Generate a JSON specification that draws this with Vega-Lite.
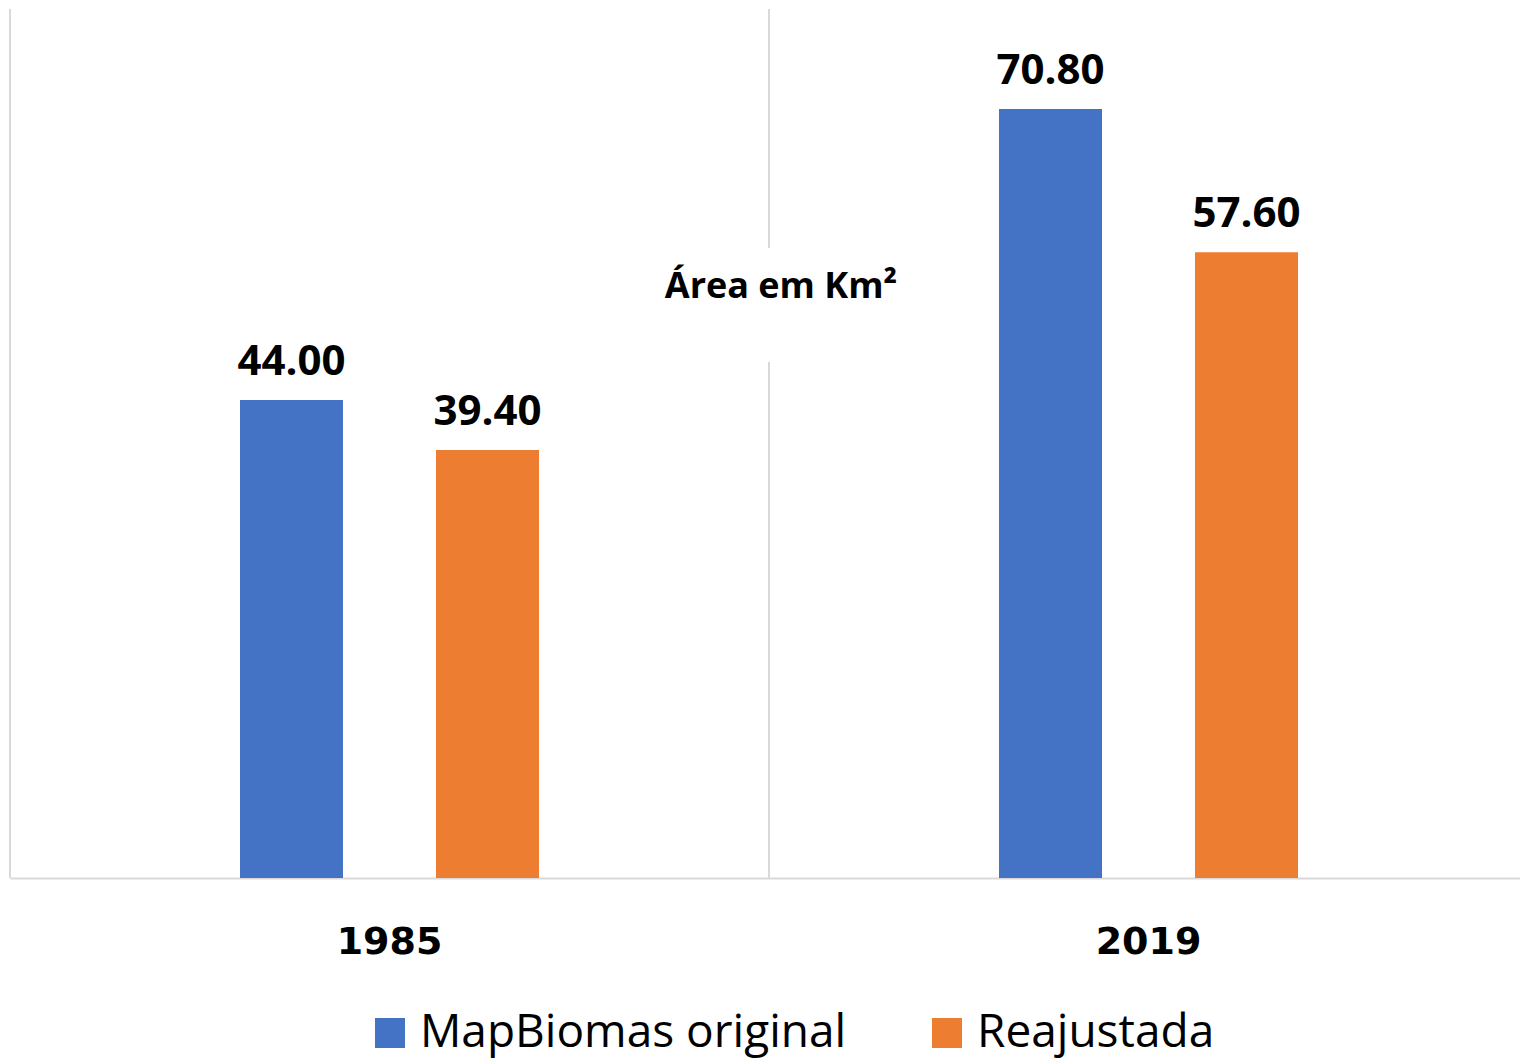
{
  "$schema": "https://vega.github.io/schema/vega-lite/v6.json",
  "width": 1510,
  "height": 869,
  "autosize": {"type": "none"},
  "padding": {"left": 10, "top": 9, "right": 0, "bottom": 181},
  "background": "white",
  "config": {"view": {"stroke": null}, "font": "Open Sans"},
  "datasets": {
    "bars": [
      {"year": "1985", "series": "MapBiomas original", "value": 44.0},
      {"year": "1985", "series": "Reajustada", "value": 39.4},
      {"year": "2019", "series": "MapBiomas original", "value": 70.8},
      {"year": "2019", "series": "Reajustada", "value": 57.6}
    ],
    "grid": [
      {"year": "1985", "lo": 0, "hi": 80},
      {"year": "2019", "lo": 0, "hi": 47.5},
      {"year": "2019", "lo": 58.0, "hi": 80}
    ],
    "ttl": [
      {"year": "2019", "label": "Área em Km²", "pos": 53.4}
    ]
  },
  "encoding": {
    "x": {
      "field": "year", "type": "nominal",
      "scale": {"domain": ["1985", "2019"], "paddingInner": 0, "paddingOuter": 0, "range": [0, 1518]},
      "axis": {
        "title": null, "labelAngle": 0, "ticks": false, "grid": false,
        "domainColor": "#d9d9d9", "domainWidth": 2,
        "labelFont": "DejaVu Sans", "labelFontSize": 38, "labelFontWeight": "bold",
        "labelColor": "#000000", "labelBaseline": "alphabetic", "labelPadding": 75
      }
    }
  },
  "layer": [
    {
      "data": {"name": "grid"},
      "mark": {"type": "rule", "color": "#d9d9d9", "strokeWidth": 2},
      "encoding": {
        "x": {"field": "year", "type": "nominal", "bandPosition": 0},
        "y": {"field": "lo", "type": "quantitative", "scale": {"domain": [0, 80], "nice": false}, "axis": null},
        "y2": {"field": "hi"}
      }
    },
    {
      "data": {"name": "bars"},
      "transform": [{"filter": "datum.series === 'MapBiomas original'"}],
      "mark": {"type": "bar", "width": 103, "xOffset": -98},
      "encoding": {
        "y": {"field": "value", "type": "quantitative"},
        "color": {
          "field": "series", "type": "nominal",
          "scale": {"domain": ["MapBiomas original", "Reajustada"], "range": ["#4472C4", "#ED7D31"]},
          "legend": {
            "title": null, "orient": "none", "direction": "horizontal",
            "legendX": 357, "legendY": 1001, "padding": 0,
            "symbolType": "square", "symbolSize": 900, "symbolStrokeWidth": 0,
            "labelFont": "Open Sans", "labelFontSize": 46, "labelColor": "#000000",
            "labelOffset": 7, "columnPadding": 77, "labelLimit": 0
          }
        }
      }
    },
    {
      "data": {"name": "bars"},
      "transform": [{"filter": "datum.series === 'Reajustada'"}],
      "mark": {"type": "bar", "width": 103, "xOffset": 98},
      "encoding": {
        "y": {"field": "value", "type": "quantitative"},
        "color": {"field": "series", "type": "nominal"}
      }
    },
    {
      "data": {"name": "bars"},
      "transform": [{"filter": "datum.series === 'MapBiomas original'"}],
      "mark": {"type": "text", "baseline": "alphabetic", "dy": -25, "dx": -98, "fontSize": 42, "fontWeight": "bold", "color": "#000000", "font": "Open Sans"},
      "encoding": {
        "y": {"field": "value", "type": "quantitative"},
        "text": {"field": "value", "type": "quantitative", "format": ".2f"}
      }
    },
    {
      "data": {"name": "bars"},
      "transform": [{"filter": "datum.series === 'Reajustada'"}],
      "mark": {"type": "text", "baseline": "alphabetic", "dy": -25, "dx": 98, "fontSize": 42, "fontWeight": "bold", "color": "#000000", "font": "Open Sans"},
      "encoding": {
        "y": {"field": "value", "type": "quantitative"},
        "text": {"field": "value", "type": "quantitative", "format": ".2f"}
      }
    },
    {
      "data": {"name": "ttl"},
      "mark": {"type": "text", "baseline": "alphabetic", "align": "center", "dx": 12, "fontSize": 36, "fontWeight": "bold", "color": "#000000", "font": "Open Sans"},
      "encoding": {
        "x": {"field": "year", "type": "nominal", "bandPosition": 0},
        "y": {"field": "pos", "type": "quantitative"},
        "text": {"field": "label", "type": "nominal"}
      }
    }
  ]
}
